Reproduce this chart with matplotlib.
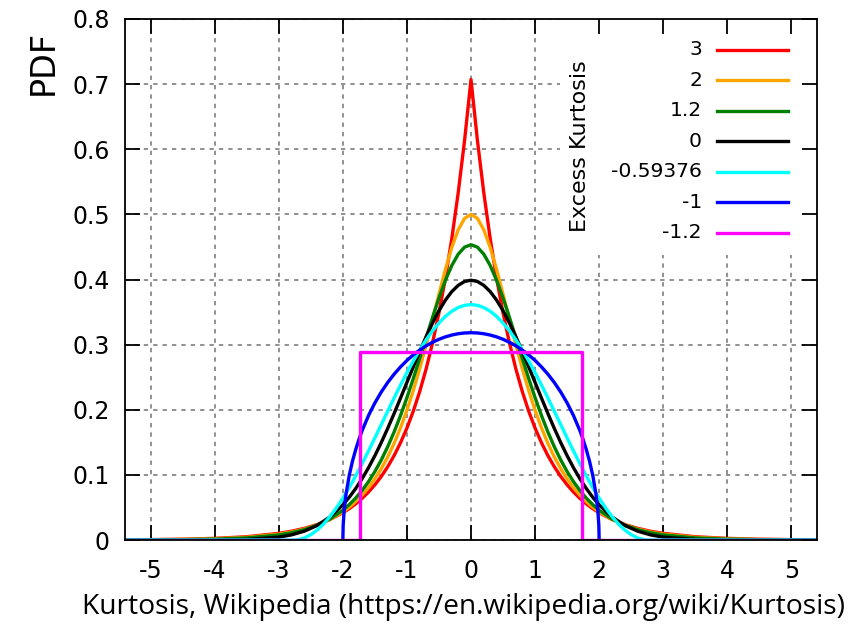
import matplotlib
matplotlib.use("Agg")
import matplotlib.pyplot as plt
from matplotlib.patches import Rectangle
import numpy as np

plt.rcParams["font.family"] = ["DejaVu Sans"]
plt.rcParams["axes.unicode_minus"] = False

# half profiles (x >= 0), the curves are symmetric about 0
x_half = [0, 0.1, 0.2, 0.3, 0.4, 0.5, 0.6, 0.7, 0.8, 0.9, 1.0, 1.1, 1.2, 1.3, 1.4, 1.5, 1.6,
          1.7, 1.8, 1.9, 2.0, 2.2, 2.4, 2.6, 2.8, 3.0, 3.5, 4.0, 4.5, 5.0, 5.5]
laplace = [0.7071, 0.6138, 0.5329, 0.4626, 0.4017, 0.3487, 0.3027, 0.2628, 0.2281, 0.1980,
           0.1719, 0.1493, 0.1296, 0.1125, 0.0976, 0.0848, 0.0736, 0.0639, 0.0555, 0.0481,
           0.0418, 0.0315, 0.0237, 0.0179, 0.0135, 0.0102, 0.0050, 0.0025, 0.0012, 0.0006, 0.0003]
hyp_secant = [0.5000, 0.4939, 0.4763, 0.4492, 0.4153, 0.3775, 0.3383, 0.2998, 0.2633, 0.2297,
              0.1993, 0.1722, 0.1484, 0.1276, 0.1096, 0.0939, 0.0805, 0.0689, 0.0590, 0.0504,
              0.0431, 0.0315, 0.0230, 0.0168, 0.0123, 0.0090, 0.0041, 0.0019, 0.0009, 0.0004, 0.0002]
logistic = [0.4534, 0.4497, 0.4388, 0.4214, 0.3986, 0.3716, 0.3418, 0.3105, 0.2789, 0.2481,
            0.2186, 0.1911, 0.1659, 0.1432, 0.1230, 0.1051, 0.0895, 0.0760, 0.0643, 0.0543,
            0.0457, 0.0323, 0.0228, 0.0159, 0.0112, 0.0078, 0.0032, 0.0013, 0.0005, 0.0002, 0.0001]
normal = [0.3989, 0.3970, 0.3910, 0.3814, 0.3683, 0.3521, 0.3332, 0.3123, 0.2897, 0.2661,
          0.2420, 0.2179, 0.1942, 0.1714, 0.1497, 0.1295, 0.1109, 0.0940, 0.0790, 0.0656,
          0.0540, 0.0355, 0.0224, 0.0136, 0.0079, 0.0044, 0.0009, 0.0001, 0.0, 0.0, 0.0]

x_cos = [0, 0.1, 0.2, 0.3, 0.4, 0.5, 0.6, 0.7, 0.8, 0.9, 1.0, 1.1, 1.2, 1.3, 1.4, 1.5, 1.6,
         1.7, 1.8, 1.9, 2.0, 2.1, 2.2, 2.3, 2.4, 2.5, 2.6, 2.7, 2.766, 5.5]
raised_cos = [0.3615, 0.3604, 0.3569, 0.3512, 0.3433, 0.3332, 0.3212, 0.3074, 0.2919, 0.2751,
              0.2570, 0.2379, 0.2181, 0.1978, 0.1773, 0.1568, 0.1367, 0.1171, 0.0983, 0.0806,
              0.0642, 0.0493, 0.0361, 0.0247, 0.0154, 0.0082, 0.0032, 0.0005, 0.0, 0.0]

x_semi = [0, 0.1, 0.2, 0.3, 0.4, 0.5, 0.6, 0.7, 0.8, 0.9, 1.0, 1.1, 1.2, 1.3, 1.4, 1.5,
          1.6, 1.7, 1.75, 1.8, 1.85, 1.9, 1.95, 1.98, 1.995, 2.0]
semicircle = [0.3183, 0.3179, 0.3167, 0.3147, 0.3119, 0.3082, 0.3036, 0.2982, 0.2917, 0.2843,
              0.2757, 0.2658, 0.2546, 0.2419, 0.2273, 0.2105, 0.1910, 0.1677, 0.1541, 0.1387,
              0.1209, 0.0994, 0.0707, 0.0449, 0.0225, 0.0]

x_unif = [-5.5, -1.732, -1.732, 1.732, 1.732, 5.5]
uniform = [0.0, 0.0, 0.2887, 0.2887, 0.0, 0.0]

labels = ["3", "2", "1.2", "0", "-0.59376", "-1", "-1.2"]
colors = ["#ff0000", "#ffa500", "#008000", "#000000", "#00ffff", "#0000ff", "#ff00ff"]

x_ticks = [-5, -4, -3, -2, -1, 0, 1, 2, 3, 4, 5]
x_ticklabels = ["-5", "-4", "-3", "-2", "-1", "0", "1", "2", "3", "4", "5"]
y_ticks = [0, 0.1, 0.2, 0.3, 0.4, 0.5, 0.6, 0.7, 0.8]
y_ticklabels = ["0", "0.1", "0.2", "0.3", "0.4", "0.5", "0.6", "0.7", "0.8"]


def mirror(xs, ys):
    xs = np.asarray(xs, float)
    ys = np.asarray(ys, float)
    return np.r_[-xs[::-1], xs[1:]], np.r_[ys[::-1], ys[1:]]


curves = [
    mirror(x_half, laplace),
    mirror(x_half, hyp_secant),
    mirror(x_half, logistic),
    mirror(x_half, normal),
    mirror(x_cos, raised_cos),
    mirror(x_semi, semicircle),
    (np.array(x_unif), np.array(uniform)),
]

fig = plt.figure(figsize=(8.51, 6.25), dpi=100)
ax = fig.add_axes([125 / 851, 85 / 625, 692 / 851, 521 / 625])

# dotted grid, kept below everything
grid_kw = dict(color="#888888", lw=1.3, ls=(0, (2.4, 2.8)), zorder=0.2)
for v in x_ticks:
    ax.axvline(v, **grid_kw)
for v in y_ticks:
    ax.axhline(v, **grid_kw)

# white area behind the key
ax.add_patch(Rectangle((0.629, 0.547), 0.371, 0.453, transform=ax.transAxes,
                       facecolor="white", edgecolor="none", zorder=0.3))
ax.set_axisbelow(True)

for (xs, ys), c, lab in zip(curves, colors, labels):
    ax.plot(xs, ys, color=c, lw=2.4, label=lab, solid_joinstyle="round", zorder=2)

ax.set_xlim(-5.4, 5.4)
ax.set_ylim(0, 0.8)
ax.set_xticks(x_ticks)
ax.set_xticklabels(x_ticklabels)
ax.set_yticks(y_ticks)
ax.set_yticklabels(y_ticklabels)
ax.tick_params(direction="in", length=11, width=1.3, top=True, right=True,
               labelsize=17, colors="black")
ax.tick_params(axis="x", pad=14)
ax.tick_params(axis="y", pad=11)
for s in ax.spines.values():
    s.set_linewidth(1.3)
    s.set_zorder(3)

# key: right-aligned labels followed by line samples
row0, row_step = 0.9405, 0.0584
for i, (c, lab) in enumerate(zip(colors, labels)):
    yk = row0 - i * row_step
    ax.plot([0.8555, 0.958], [yk, yk], color=c, lw=2.4, transform=ax.transAxes,
            clip_on=False, zorder=4)
    ax.text(0.8338, yk, lab, transform=ax.transAxes, fontsize=14.6,
            ha="right", va="center", zorder=4)

ax.text(0.6575, 0.756, "Excess Kurtosis", transform=ax.transAxes, rotation=90,
        fontsize=16, ha="center", va="center")

fig.text(43 / 851, 1 - 62 / 625, "PDF", rotation=90, fontsize=24, ha="center", va="center")

# source line under the axis, sized to span the same width as the original
src = fig.text(463.5 / 851, 1 - 614 / 625,
               "Kurtosis, Wikipedia (https://en.wikipedia.org/wiki/Kurtosis)",
               fontsize=18.5, ha="center", va="baseline", family=["Open Sans", "DejaVu Sans"])
fig.canvas.draw()
w = src.get_window_extent(fig.canvas.get_renderer()).width
src.set_fontsize(18.5 * 765 / w)

fig.savefig("out.png", dpi=100)
